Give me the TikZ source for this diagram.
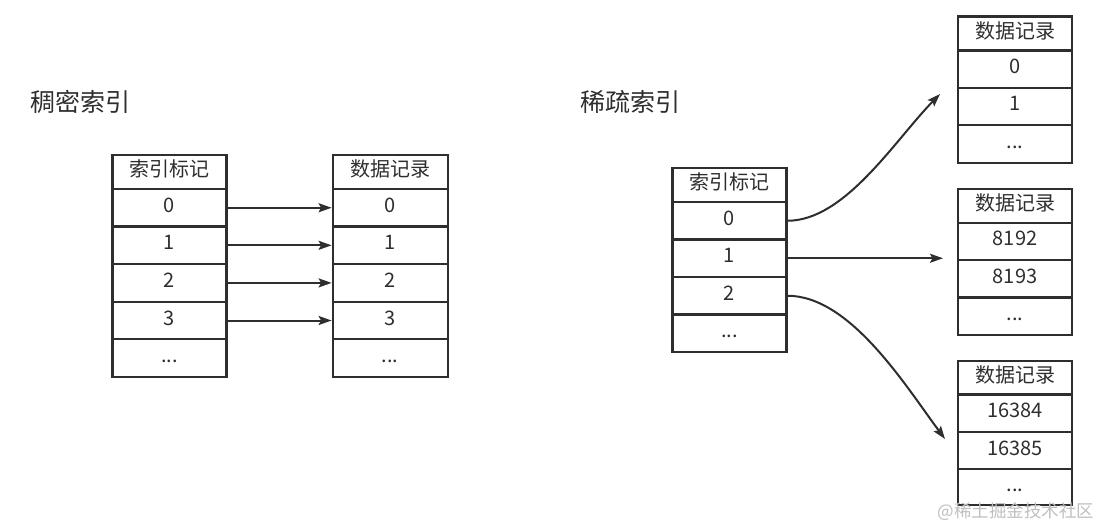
\documentclass[tikz,border=0pt]{standalone}
\usepackage{fontspec}
\setmainfont{Noto Sans CJK SC}
\usetikzlibrary{arrows.meta}
\definecolor{ink}{HTML}{2E2E2E}
\tikzset{
  cell/.style={draw=ink, line width=2.2pt, text=ink, font=\fontsize{20}{23}\selectfont,
    minimum width=#1, minimum height=37.6pt, inner sep=0pt, text height=1.1em, text depth=0.2em, anchor=center},
  cell/.default=114pt,
  headcell/.style={cell=#1, minimum height=34pt},
  headcell/.default=114pt,
  title/.style={text=ink, font=\fontsize{25}{28}\selectfont, inner sep=0pt, anchor=west},
  link/.style={draw=ink, line width=2pt, -{Stealth[length=13pt,width=9pt,inset=2.5pt]}},
  wmark/.style={text=gray!50, font=\fontsize{17.5}{20}\selectfont, inner sep=0pt}
}
\begin{document}
\begin{tikzpicture}[x=1pt,y=-1pt]
\useasboundingbox (0,0) rectangle (1103,528);
% titles
\node[title] (t1) at (30,101.5) {稠密索引};
\node[title] (t2) at (580,101.5) {稀疏索引};
% dense index table
\node[headcell] (ih) at (169.4,172) {索引标记};
\node[cell] (i0) at (169.4,207.75) {0};
\node[cell] (i1) at (169.4,245.3) {1};
\node[cell] (i2) at (169.4,282.9) {2};
\node[cell] (i3) at (169.4,320.5) {3};
\node[cell] (i4) at (169.4,358.1) {...};
% dense data table
\node[headcell=115pt] (dh) at (390.2,172) {数据记录};
\node[cell=115pt] (d0) at (390.2,207.75) {0};
\node[cell=115pt] (d1) at (390.2,245.3) {1};
\node[cell=115pt] (d2) at (390.2,282.9) {2};
\node[cell=115pt] (d3) at (390.2,320.5) {3};
\node[cell=115pt] (d4) at (390.2,358.1) {...};
\draw[link] (i0.east) -- (d0.west);
\draw[link] (i1.east) -- (d1.west);
\draw[link] (i2.east) -- (d2.west);
\draw[link] (i3.east) -- (d3.west);
% sparse index table
\node[headcell] (sh) at (729.4,185.2) {索引标记};
\node[cell] (s0) at (729.4,220.75) {0};
\node[cell] (s1) at (729.4,258.25) {1};
\node[cell] (s2) at (729.4,295.75) {2};
\node[cell] (s3) at (729.4,333.25) {...};
% data block 1
\node[headcell] (ah) at (1015,33.5) {数据记录};
\node[cell] (a0) at (1015,69) {0};
\node[cell] (a1) at (1015,106.4) {1};
\node[cell] (a2) at (1015,143.9) {...};
% data block 2
\node[headcell] (bh) at (1015,205.9) {数据记录};
\node[cell] (b0) at (1015,241.4) {8192};
\node[cell] (b1) at (1015,278.9) {8193};
\node[cell] (b2) at (1015,316.2) {...};
% data block 3
\node[headcell] (ch) at (1015,377.9) {数据记录};
\node[cell] (c0) at (1015,412.9) {16384};
\node[cell] (c1) at (1015,450.5) {16385};
\node[cell, minimum height=35.7pt] (c2) at (1015,487.2) {...};
% arrow ends
\coordinate (e0) at (940,94);
\coordinate (e1) at (943,258.25);
\coordinate (e2) at (945,439);
\draw[link] (s0.east) .. controls (845,220.75) and (895,140) .. (e0);
\draw[link] (s1.east) -- (e1);
\draw[link] (s2.east) .. controls (850,295.75) and (905,385) .. (e2);
% watermark
\node[wmark] (wm) at (1016,512) {@稀土掘金技术社区};
\end{tikzpicture}
\end{document}
